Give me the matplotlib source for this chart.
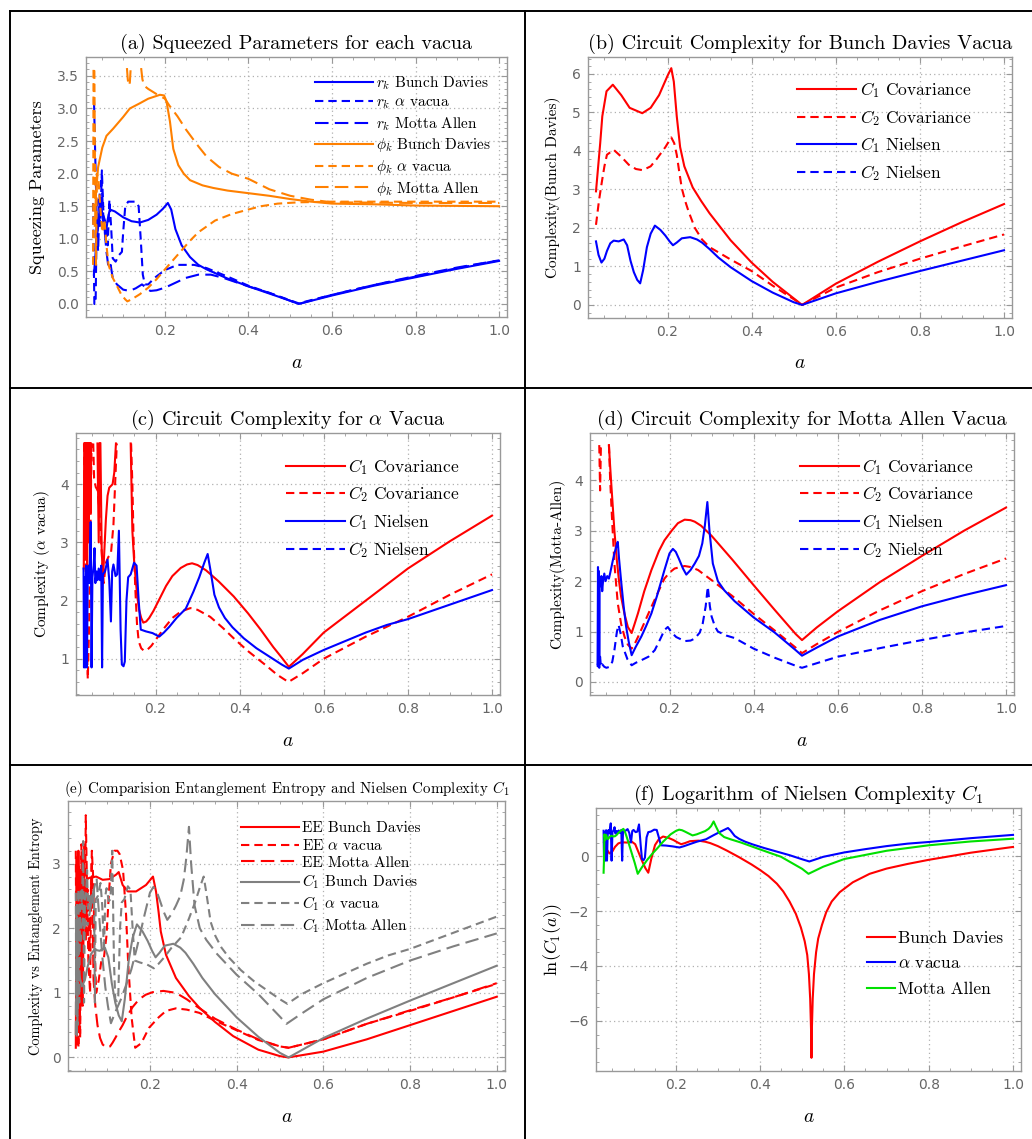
import numpy as np
import matplotlib
matplotlib.use('Agg')
import matplotlib.pyplot as plt
from matplotlib.lines import Line2D
from matplotlib.ticker import MultipleLocator

plt.rcParams['mathtext.fontset'] = 'cm'
nan = np.nan

# ---------------- (a) squeezing parameters ----------------
a_rk_bd_x = [0.030, 0.036, 0.042, 0.047, 0.052, 0.058, 0.063, 0.068, 0.08, 0.1, 0.12, 0.14, 0.16, 0.18, 0.195,
             0.207, 0.215, 0.225, 0.24, 0.26, 0.28, 0.3, 0.35, 0.4, 0.45, 0.5, 0.52, 0.6, 0.7, 0.8, 0.9, 1.0]
a_rk_bd_y = [0.45, 0.95, 1.3, 1.55, 1.25, 1.05, 1.3, 1.45, 1.42, 1.33, 1.27, 1.25, 1.29, 1.37, 1.46,
             1.55, 1.45, 1.15, 0.9, 0.72, 0.6, 0.53, 0.39, 0.27, 0.16, 0.05, 0.0, 0.13, 0.28, 0.41, 0.54, 0.66]

a_rk_al_x = [0.028, 0.031, 0.034, 0.037, 0.041, 0.045, 0.049, 0.053, 0.058, 0.063, 0.067, 0.071, 0.075, 0.082,
             0.09, 0.097, 0.1, 0.105, 0.112, 0.13, 0.137, 0.142, 0.147, 0.152, 0.16, 0.175, 0.2, 0.23, 0.27,
             0.3, 0.35, 0.4, 0.45, 0.52, 0.6, 0.7, 0.8, 0.9, 1.0]
a_rk_al_y = [1.55, 0.0, 0.0, 1.5, 1.6, 1.2, 2.05, 1.35, 1.25, 0.9, 1.6, 1.2, 0.7, 0.65,
             0.75, 0.8, 1.1, 1.5, 1.57, 1.57, 1.5, 1.0, 0.45, 0.3, 0.3, 0.4, 0.52, 0.6, 0.6,
             0.55, 0.42, 0.28, 0.17, 0.01, 0.14, 0.29, 0.42, 0.55, 0.67]

a_rk_ma_x = [0.030, 0.033, 0.036, 0.04, 0.044, 0.048, 0.052, 0.056, 0.06, 0.065, 0.07, 0.075, 0.085, 0.1,
             0.115, 0.13, 0.145, 0.155, 0.165, 0.18, 0.2, 0.22, 0.25, 0.28, 0.31, 0.34, 0.4, 0.45, 0.52,
             0.6, 0.7, 0.8, 0.9, 1.0]
a_rk_ma_y = [3.15, 2.3, 1.5, 0.8, 1.7, 1.9, 1.4, 1.1, 0.8, 0.55, 0.6, 0.4, 0.3, 0.22,
             0.2, 0.24, 0.3, 0.25, 0.2, 0.21, 0.25, 0.31, 0.4, 0.45, 0.45, 0.4, 0.27, 0.17, 0.0,
             0.14, 0.29, 0.43, 0.56, 0.67]

a_ph_bd_x = [0.032, 0.035, 0.04, 0.05, 0.06, 0.076, 0.1, 0.116, 0.14, 0.16, 0.188, 0.198, 0.204, 0.212,
             0.22, 0.232, 0.245, 0.26, 0.29, 0.316, 0.35, 0.4, 0.45, 0.5, 0.55, 0.6, 0.7, 0.8, 1.0]
a_ph_bd_y = [1.2, 1.7, 2.1, 2.4, 2.58, 2.69, 2.87, 3.0, 3.08, 3.15, 3.21, 3.2, 3.1, 2.8,
             2.38, 2.13, 2.0, 1.9, 1.82, 1.78, 1.74, 1.7, 1.66, 1.61, 1.57, 1.54, 1.53, 1.51, 1.5]

a_ph_al_x = [0.028, 0.029, 0.031, 0.033, 0.035, 0.037, 0.041, 0.045, 0.05, 0.055, 0.06, 0.065, 0.075,
             0.085, 0.095, 0.105, 0.11, 0.12, 0.14, 0.16, 0.18, 0.2, 0.23, 0.26, 0.28, 0.32, 0.36, 0.4,
             0.43, 0.47, 0.52, 0.6, 0.8, 1.0]
a_ph_al_y = [0.6, 3.62, 3.62, 1.6, 0.6, 2.0, 1.9, 1.5, 1.1, 1.3, 0.9, 0.6, 0.4,
             0.28, 0.15, 0.07, 0.04, 0.07, 0.15, 0.25, 0.38, 0.53, 0.75, 0.97, 1.1, 1.28, 1.38, 1.45,
             1.5, 1.54, 1.56, 1.57, 1.57, 1.57]

a_ph_ma_x = [0.109, 0.111, 0.113, 0.116, 0.118, nan, 0.143, 0.146, 0.15, 0.16, 0.18, 0.2, 0.21, 0.23,
             0.25, 0.28, 0.3, 0.33, 0.36, 0.4, 0.45, 0.5, 0.55, 0.6, 0.8, 1.0]
a_ph_ma_y = [3.62, 3.45, 3.35, 3.4, 3.62, nan, 3.62, 3.45, 3.35, 3.3, 3.22, 3.15, 3.05, 2.88,
             2.68, 2.42, 2.26, 2.1, 2.0, 1.92, 1.76, 1.66, 1.6, 1.56, 1.55, 1.55]

# ---------------- (b) Bunch Davies ----------------
b_c1cov_x = [0.03, 0.04, 0.045, 0.055, 0.07, 0.09, 0.11, 0.14, 0.16, 0.18, 0.2, 0.209, 0.215, 0.222,
             0.23, 0.24, 0.26, 0.28, 0.3, 0.35, 0.4, 0.45, 0.52, 0.6, 0.7, 0.8, 0.9, 1.0]
b_c1cov_y = [2.95, 4.2, 4.9, 5.55, 5.72, 5.45, 5.12, 4.98, 5.12, 5.45, 5.95, 6.15, 5.8, 4.9,
             4.1, 3.6, 3.05, 2.7, 2.38, 1.68, 1.1, 0.6, 0.0, 0.55, 1.12, 1.65, 2.15, 2.62]

b_c2cov_x = [0.03, 0.037, 0.044, 0.05, 0.056, 0.072, 0.09, 0.108, 0.125, 0.141, 0.16, 0.175, 0.195, 0.209,
             0.216, 0.222, 0.228, 0.234, 0.242, 0.25, 0.265, 0.282, 0.3, 0.35, 0.4, 0.45, 0.5, 0.52,
             0.6, 0.7, 0.8, 0.9, 1.0]
b_c2cov_y = [2.08, 2.7, 3.2, 3.6, 3.9, 4.03, 3.85, 3.64, 3.53, 3.5, 3.6, 3.8, 4.1, 4.35,
             4.2, 3.9, 3.45, 3.03, 2.7, 2.43, 2.0, 1.7, 1.5, 1.18, 0.88, 0.5, 0.15, 0.0,
             0.45, 0.85, 1.2, 1.52, 1.83]

b_c1niel_x = [0.03, 0.036, 0.043, 0.05, 0.056, 0.064, 0.072, 0.084, 0.096, 0.104, 0.112, 0.12, 0.128, 0.135,
              0.142, 0.151, 0.16, 0.17, 0.183, 0.195, 0.205, 0.213, 0.222, 0.234, 0.254, 0.27, 0.282, 0.3,
              0.321, 0.35, 0.4, 0.45, 0.5, 0.52, 0.6, 0.7, 0.8, 0.9, 1.0]
b_c1niel_y = [1.65, 1.3, 1.1, 1.2, 1.4, 1.6, 1.67, 1.65, 1.7, 1.55, 1.15, 0.85, 0.65, 0.56,
              0.9, 1.5, 1.85, 2.06, 1.95, 1.8, 1.65, 1.55, 1.62, 1.73, 1.76, 1.7, 1.62, 1.45,
              1.23, 0.98, 0.62, 0.32, 0.07, 0.0, 0.3, 0.6, 0.88, 1.15, 1.42]

# ---------------- (c) alpha vacua ----------------
c_c1cov_x = [0.0295, 0.0305, nan, 0.0325, 0.0335, 0.0345, nan, 0.0365, 0.0375, 0.0385, nan, 0.0405, 0.0415,
             0.0425, nan, 0.0445, 0.0455, 0.0465, nan, 0.062, 0.065, 0.067, nan, 0.069, 0.072, 0.075, 0.078,
             0.082, 0.086, 0.09, 0.098, 0.102, 0.106, nan, 0.141, 0.145, 0.149, 0.153, 0.157, 0.161, 0.166,
             0.171, 0.178, 0.185, 0.195, 0.209, 0.225, 0.24, 0.26, 0.275, 0.287, 0.3, 0.32, 0.35, 0.386,
             0.42, 0.45, 0.48, 0.5, 0.517, 0.55, 0.6, 0.7, 0.8, 0.9, 1.0]
c_c1cov_y = [2.55, 4.7, nan, 4.7, 2.7, 4.7, nan, 4.7, 2.5, 4.7, nan, 4.7, 3.0,
             4.7, nan, 4.7, 3.5, 4.7, nan, 4.7, 3.0, 4.7, nan, 4.7, 2.9, 2.35, 2.8,
             3.39, 3.8, 3.94, 4.0, 4.2, 4.7, nan, 4.7, 3.2, 2.7, 2.35, 2.05, 1.84, 1.7,
             1.62, 1.64, 1.7, 1.82, 2.02, 2.25, 2.42, 2.56, 2.62, 2.64, 2.61, 2.52, 2.33, 2.07,
             1.78, 1.5, 1.2, 1.02, 0.86, 1.08, 1.45, 2.0, 2.55, 3.02, 3.46]

c_c2cov_x = [0.030, 0.033, 0.036, 0.039, 0.042, 0.045, 0.048, nan, 0.052, 0.054, 0.058, 0.062, 0.066, 0.07,
             0.074, 0.077, 0.082, 0.088, 0.094, 0.1, 0.104, 0.108, nan, 0.142, 0.145, 0.148, 0.152, 0.156,
             0.16, 0.166, 0.172, 0.18, 0.19, 0.2, 0.22, 0.24, 0.26, 0.283, 0.3, 0.33, 0.36, 0.386, 0.42,
             0.46, 0.49, 0.516, 0.55, 0.6, 0.7, 0.8, 0.9, 1.0]
c_c2cov_y = [4.7, 3.0, 1.5, 0.65, 1.5, 3.0, 4.7, nan, 4.7, 4.1, 3.95, 3.9, 3.6, 3.1,
             2.6, 2.3, 2.65, 2.75, 2.8, 3.3, 4.0, 4.7, nan, 4.7, 4.0, 3.0, 2.2, 1.6,
             1.3, 1.18, 1.14, 1.15, 1.22, 1.32, 1.52, 1.7, 1.81, 1.87, 1.84, 1.72, 1.53, 1.35, 1.13,
             0.9, 0.72, 0.6, 0.75, 1.0, 1.38, 1.72, 2.1, 2.45]

c_c1niel_x = [0.029, 0.030, 0.031, 0.033, 0.035, 0.037, 0.039, 0.041, 0.043, 0.046, 0.048, 0.05, 0.053,
              0.055, 0.057, 0.06, 0.062, 0.065, 0.068, 0.071, 0.073, 0.075, 0.08, 0.086, 0.09, 0.094, 0.097,
              0.1, 0.105, 0.109, 0.113, 0.117, 0.12, 0.124, 0.127, 0.131, 0.135, 0.141, 0.149, 0.155, 0.16,
              0.165, 0.177, 0.193, 0.209, 0.22, 0.233, 0.25, 0.272, 0.29, 0.304, 0.316, 0.324, 0.33, 0.34,
              0.351, 0.365, 0.383, 0.41, 0.44, 0.47, 0.5, 0.517, 0.55, 0.6, 0.65, 0.7, 0.75, 0.8, 0.9, 1.0]
c_c1niel_y = [2.55, 0.85, 2.4, 0.85, 2.6, 0.85, 2.5, 2.6, 2.3, 3.35, 0.85, 2.4, 2.6,
              2.9, 2.3, 2.5, 2.35, 2.55, 2.35, 2.6, 0.85, 2.45, 2.5, 2.7, 2.35, 1.64, 2.5,
              2.62, 2.42, 2.45, 3.2, 1.5, 0.9, 0.87, 0.95, 2.0, 2.4, 2.45, 2.65, 2.6, 2.0,
              1.5, 1.47, 1.44, 1.38, 1.45, 1.55, 1.7, 1.86, 2.15, 2.4, 2.65, 2.8, 2.55, 2.1,
              1.88, 1.7, 1.54, 1.35, 1.18, 1.04, 0.9, 0.83, 0.98, 1.15, 1.3, 1.45, 1.58, 1.68, 1.93, 2.18]

# ---------------- (d) Motta Allen ----------------
d_c1cov_x = [0.056, 0.058, 0.061, 0.065, 0.069, 0.075, 0.08, 0.085, 0.093, 0.101, 0.11, 0.117, 0.125, 0.14,
             0.157, 0.175, 0.188, 0.205, 0.22, 0.236, 0.25, 0.26, 0.275, 0.3, 0.35, 0.4, 0.45, 0.5,
             0.515, 0.55, 0.6, 0.7, 0.8, 0.9, 1.0]
d_c1cov_y = [4.7, 4.4, 4.0, 3.5, 3.0, 2.4, 2.0, 1.69, 1.35, 1.09, 0.97, 1.15, 1.36, 1.8,
             2.22, 2.6, 2.81, 3.0, 3.15, 3.22, 3.21, 3.18, 3.1, 2.9, 2.42, 1.92, 1.43, 0.95,
             0.83, 1.08, 1.4, 1.98, 2.5, 3.0, 3.46]

d_c2cov_x = [0.033, 0.035, 0.037, nan, 0.056, 0.059, 0.063, 0.069, 0.077, 0.085, 0.093, 0.101, 0.11, 0.117,
             0.125, 0.14, 0.157, 0.175, 0.188, 0.2, 0.212, 0.236, 0.25, 0.268, 0.3, 0.35, 0.4, 0.45,
             0.5, 0.515, 0.55, 0.6, 0.7, 0.8, 0.9, 1.0]
d_c2cov_y = [4.7, 3.8, 4.7, nan, 4.7, 4.0, 3.3, 2.35, 1.56, 1.15, 0.9, 0.74, 0.66, 0.75,
             0.89, 1.17, 1.49, 1.82, 2.05, 2.17, 2.25, 2.3, 2.28, 2.22, 2.02, 1.7, 1.35, 1.02,
             0.68, 0.57, 0.75, 0.99, 1.42, 1.8, 2.14, 2.45]

d_c1niel_x = [0.029, 0.030, 0.031, 0.032, 0.033, 0.034, 0.036, 0.038, 0.04, 0.042, 0.045, 0.048, 0.052,
              0.056, 0.06, 0.065, 0.069, 0.074, 0.077, 0.08, 0.085, 0.091, 0.097, 0.103, 0.11, 0.12, 0.133,
              0.145, 0.157, 0.17, 0.188, 0.2, 0.208, 0.215, 0.222, 0.232, 0.24, 0.25, 0.26, 0.27, 0.278,
              0.284, 0.29, 0.295, 0.303, 0.315, 0.33, 0.355, 0.4, 0.45, 0.5, 0.515, 0.55, 0.6, 0.7, 0.8,
              0.9, 1.0]
d_c1niel_y = [0.35, 2.28, 0.3, 2.2, 0.5, 2.0, 1.9, 2.1, 1.8, 2.0, 2.15, 2.0, 2.1,
              2.05, 2.2, 2.4, 2.55, 2.7, 2.78, 2.45, 2.0, 1.5, 1.09, 0.8, 0.53, 0.7, 0.9,
              1.12, 1.36, 1.7, 2.22, 2.55, 2.64, 2.58, 2.45, 2.25, 2.13, 2.22, 2.35, 2.5, 2.75,
              3.1, 3.57, 3.0, 2.35, 2.0, 1.82, 1.6, 1.28, 0.98, 0.63, 0.52, 0.68, 0.9, 1.23, 1.5,
              1.72, 1.92]

d_c2niel_x = [0.029, 0.031, 0.033, 0.035, 0.037, 0.04, 0.045, 0.05, 0.058, 0.064, 0.069, 0.075, 0.079,
              0.084, 0.089, 0.1, 0.11, 0.12, 0.133, 0.15, 0.165, 0.178, 0.188, 0.196, 0.205, 0.216, 0.236,
              0.25, 0.26, 0.272, 0.279, 0.286, 0.291, 0.296, 0.3, 0.308, 0.315, 0.335, 0.355, 0.4, 0.45,
              0.5, 0.515, 0.6, 0.7, 0.8, 0.9, 1.0]
d_c2niel_y = [0.3, 0.45, 0.28, 0.5, 0.3, 0.35, 0.3, 0.28, 0.3, 0.4, 0.63, 1.0, 1.13,
              0.95, 0.7, 0.45, 0.33, 0.38, 0.43, 0.5, 0.63, 0.85, 1.03, 1.09, 0.98, 0.89, 0.81,
              0.82, 0.86, 0.98, 1.16, 1.5, 1.89, 1.5, 1.3, 1.1, 1.0, 0.92, 0.87, 0.66, 0.48,
              0.32, 0.28, 0.5, 0.67, 0.83, 0.98, 1.11]

# ---------------- (e) entanglement entropy ----------------
e_ee_bd_x = [0.029, 0.031, 0.033, 0.035, 0.037, 0.039, 0.041, 0.043, 0.045, 0.047, 0.05, 0.053, 0.06, 0.076,
             0.091, 0.106, 0.122, 0.128, 0.137, 0.149, 0.168, 0.191, 0.207, 0.214, 0.22, 0.225, 0.237,
             0.26, 0.29, 0.314, 0.35, 0.392, 0.45, 0.5, 0.519, 0.6, 0.7, 0.8, 0.9, 1.0]
e_ee_bd_y = [0.15, 3.1, 0.4, 3.2, 0.5, 2.9, 0.8, 3.1, 1.2, 2.6, 2.2, 2.75, 2.78, 2.8,
             2.75, 2.76, 2.83, 2.87, 2.67, 2.57, 2.57, 2.67, 2.8, 2.57, 2.25, 1.95, 1.59,
             1.23, 0.95, 0.77, 0.55, 0.33, 0.12, 0.02, 0.0, 0.09, 0.28, 0.5, 0.72, 0.94]

e_ee_al_x = [0.029, 0.031, 0.033, 0.035, 0.037, 0.039, 0.042, 0.045, 0.048, 0.05, 0.052, 0.055, 0.058,
             0.062, 0.064, 0.066, 0.069, 0.072, 0.076, 0.082, 0.088, 0.094, 0.1, 0.105, 0.11, 0.118, 0.125,
             0.13, 0.138, 0.145, 0.15, 0.158, 0.166, 0.18, 0.198, 0.22, 0.237, 0.26, 0.285, 0.314, 0.35,
             0.4, 0.45, 0.5, 0.52, 0.6, 0.7, 0.8, 0.9, 1.0]
e_ee_al_y = [3.2, 0.2, 3.0, 0.15, 2.5, 0.3, 3.3, 0.8, 3.0, 2.0, 3.75, 2.6, 1.5,
             1.0, 2.5, 3.2, 2.8, 1.8, 1.0, 1.2, 1.5, 1.55, 1.9, 2.5, 3.0, 3.2, 3.2,
             3.15, 2.9, 2.2, 1.43, 0.6, 0.15, 0.22, 0.46, 0.62, 0.72, 0.76, 0.74, 0.69, 0.57,
             0.42, 0.27, 0.17, 0.15, 0.28, 0.52, 0.72, 0.93, 1.14]

e_ee_ma_x = [0.03, 0.032, 0.034, 0.036, 0.038, 0.04, 0.044, 0.048, 0.052, 0.056, 0.06, 0.063, 0.066, 0.068,
             0.07, 0.074, 0.079, 0.085, 0.091, 0.1, 0.108, 0.114, 0.12, 0.129, 0.137, 0.145, 0.16, 0.175,
             0.19, 0.206, 0.231, 0.26, 0.285, 0.31, 0.35, 0.4, 0.45, 0.5, 0.52, 0.6, 0.7, 0.8, 0.9, 1.0]
e_ee_ma_y = [0.2, 2.8, 1.0, 3.0, 0.6, 2.5, 1.5, 3.3, 1.8, 2.6, 1.6, 2.4, 3.0, 2.0,
             1.2, 0.8, 0.5, 0.3, 0.2, 0.15, 0.17, 0.23, 0.3, 0.41, 0.5, 0.61, 0.78, 0.9,
             0.97, 1.01, 1.03, 1.0, 0.9, 0.78, 0.6, 0.43, 0.28, 0.17, 0.15, 0.28, 0.52, 0.73, 0.93, 1.15]

# ---------------- (f) log of Nielsen C1 ----------------
f_bd_x = [0.03, 0.036, 0.043, 0.05, 0.056, 0.064, 0.072, 0.084, 0.096, 0.104, 0.112, 0.12, 0.128, 0.135,
          0.142, 0.151, 0.16, 0.17, 0.183, 0.195, 0.205, 0.213, 0.222, 0.234, 0.254, 0.27, 0.282, 0.3,
          0.321, 0.35, 0.38, 0.4, 0.42, 0.44, 0.455, 0.47, 0.485, 0.497, 0.506, 0.512, 0.516, 0.519,
          0.521, 0.522, 0.523, 0.525, 0.528, 0.533, 0.538, 0.547, 0.557, 0.57, 0.589, 0.62, 0.66, 0.7,
          0.75, 0.8, 0.9, 1.0]
f_bd_y = [0.5, 0.26, 0.1, 0.18, 0.34, 0.47, 0.51, 0.5, 0.53, 0.44, 0.14, -0.16, -0.43, -0.6,
          -0.1, 0.41, 0.62, 0.72, 0.67, 0.59, 0.5, 0.44, 0.48, 0.55, 0.57, 0.53, 0.48, 0.37,
          0.21, -0.03, -0.3, -0.5, -0.72, -1.0, -1.28, -1.65, -2.1, -2.6, -3.1, -3.6, -4.3, -5.2,
          -6.3, -7.35, -6.3, -5.2, -4.3, -3.5, -3.0, -2.5, -2.04, -1.65, -1.31, -0.95, -0.64, -0.45,
          -0.28, -0.13, 0.13, 0.34]

f_al_x = c_c1niel_x
f_al_y = [0.93, -0.16, 0.88, -0.16, 0.95, -0.16, 0.92, 0.96, 0.83, 1.2, -0.16, 0.88, 0.96,
          1.06, 0.83, 0.92, 0.85, 0.94, 0.85, 0.96, -0.16, 0.9, 0.92, 0.99, 0.85, 0.5, 0.92,
          0.96, 0.88, 0.9, 1.16, 0.4, -0.1, -0.14, -0.05, 0.69, 0.88, 0.9, 0.97, 0.96, 0.69,
          0.4, 0.39, 0.36, 0.32, 0.37, 0.44, 0.53, 0.62, 0.77, 0.88, 0.97, 1.03, 0.94, 0.74,
          0.63, 0.53, 0.43, 0.3, 0.17, 0.04, -0.11, -0.19, -0.02, 0.14, 0.26, 0.37, 0.46, 0.52, 0.66, 0.78]

f_ma_x = [0.029, 0.030, 0.031, 0.033, 0.035, 0.038, 0.04, 0.044, 0.048, 0.052, 0.056, 0.06, 0.064, 0.069,
          0.076, 0.08, 0.085, 0.091, 0.097, 0.103, 0.11, 0.12, 0.133, 0.145, 0.157, 0.17, 0.188, 0.2,
          0.208, 0.215, 0.222, 0.24, 0.25, 0.26, 0.27, 0.278, 0.284, 0.29, 0.295, 0.303, 0.315, 0.33,
          0.355, 0.4, 0.45, 0.5, 0.515, 0.55, 0.6, 0.7, 0.8, 0.9, 1.0]
f_ma_y = [-0.6, -0.1, 0.8, 0.6, 0.78, 0.65, 0.63, 0.72, 0.75, 0.72, 0.73, 0.78, 0.85, 0.92,
          1.0, 0.88, 0.65, 0.35, 0.05, -0.25, -0.64, -0.4, -0.12, 0.1, 0.3, 0.53, 0.8, 0.92,
          0.97, 0.95, 0.9, 0.76, 0.8, 0.86, 0.92, 1.0, 1.1, 1.27, 1.1, 0.85, 0.7, 0.62,
          0.5, 0.25, -0.02, -0.46, -0.64, -0.38, -0.1, 0.2, 0.4, 0.54, 0.64]

W, H = 1032, 1139
fig = plt.figure(figsize=(W / 100, H / 100), dpi=100)

SERIF = 'cmr10'
SHORT = (0, (4, 2.4))
LONG = (0, (6.5, 3))
LW = 1.5
BLUE, ORANGE, RED, GREY, GREEN = '#0000ff', '#ff8000', '#ff0000', '#808080', '#00e000'


def make_axes(l, t, r, b):
    return fig.add_axes([l / W, 1 - b / H, (r - l) / W, (b - t) / H])


def style(ax, ylim, ymaj, ymin, title, tsize, ylabel, ysize, ydist, h_px, w_px):
    ax.set_xlim(0.011, 1.019)
    ax.set_ylim(*ylim)
    ax.xaxis.set_major_locator(MultipleLocator(0.2))
    ax.xaxis.set_minor_locator(MultipleLocator(0.05))
    ax.yaxis.set_major_locator(MultipleLocator(ymaj))
    ax.yaxis.set_minor_locator(MultipleLocator(ymin))
    ax.tick_params(which='both', direction='in', top=True, right=True, color='#999999')
    ax.tick_params(which='major', length=4.5, width=0.8, labelsize=10, labelcolor='#666666', pad=5)
    ax.tick_params(which='minor', length=2.5, width=0.6)
    for s in ax.spines.values():
        s.set_color('#999999')
        s.set_linewidth(1.0)
    ax.grid(True, which='major', color='#b0b0b0', linestyle=(0, (1, 2.5)), linewidth=0.9)
    ax.set_title(title, fontsize=tsize, family=SERIF, pad=6)
    ax.set_xlabel('$a$', fontsize=14)
    ax.xaxis.set_label_coords(0.5, -45 / h_px)
    ax.xaxis.label.set_va('center')
    ax.set_ylabel(ylabel, fontsize=ysize, family=SERIF)
    ax.yaxis.set_label_coords(-ydist / w_px, 0.5)
    ax.yaxis.label.set_va('center')


def legend(ax, x, y, size, hl, spacing):
    ax.legend(loc='upper left', bbox_to_anchor=(x, y), frameon=False,
              prop={'family': SERIF, 'size': size}, handlelength=hl, handletextpad=0.2,
              labelspacing=spacing, borderpad=0, borderaxespad=0)


# (a)
ax = make_axes(86, 57, 507, 317)
ax.plot(a_rk_bd_x, a_rk_bd_y, color=BLUE, lw=LW, label=r'$r_k$ Bunch Davies')
ax.plot(a_rk_al_x, a_rk_al_y, color=BLUE, lw=LW, ls=SHORT, label=r'$r_k$ $\alpha$ vacua')
ax.plot(a_rk_ma_x, a_rk_ma_y, color=BLUE, lw=LW, ls=LONG, label=r'$r_k$ Motta Allen')
ax.plot(a_ph_bd_x, a_ph_bd_y, color=ORANGE, lw=LW, label=r'$\phi_k$ Bunch Davies')
ax.plot(a_ph_al_x, a_ph_al_y, color=ORANGE, lw=LW, ls=SHORT, label=r'$\phi_k$ $\alpha$ vacua')
ax.plot(a_ph_ma_x, a_ph_ma_y, color=ORANGE, lw=LW, ls=LONG, label=r'$\phi_k$ Motta Allen')
style(ax, (-0.2, 3.79), 0.5, 0.1, '(a) Squeezed Parameters for each vacua', 14.5,
      'Squeezing Parameters', 13, 49, 260, 421)
legend(ax, 0.544, 0.932, 11, 3.8, 0.24)

# (b)
ax = make_axes(588, 57, 1012, 318)
ax.plot(b_c1cov_x, b_c1cov_y, color=RED, lw=LW, label=r'$C_1$ Covariance')
ax.plot(b_c2cov_x, b_c2cov_y, color=RED, lw=LW, ls=SHORT, label=r'$C_2$ Covariance')
ax.plot(b_c1niel_x, b_c1niel_y, color=BLUE, lw=LW, label=r'$C_1$ Nielsen')
ax.plot([], [], color=BLUE, lw=LW, ls=SHORT, label=r'$C_2$ Nielsen')
style(ax, (-0.34, 6.44), 1, 0.2, '(b) Circuit Complexity for Bunch Davies Vacua', 14.5,
      'Complexity(Bunch Davies)', 11, 35, 261, 424)
legend(ax, 0.493, 0.912, 12.5, 3.4, 0.45)

# (c)
ax = make_axes(76, 433, 500, 695)
ax.plot(c_c1cov_x, c_c1cov_y, color=RED, lw=LW, label=r'$C_1$ Covariance')
ax.plot(c_c2cov_x, c_c2cov_y, color=RED, lw=LW, ls=SHORT, label=r'$C_2$ Covariance')
ax.plot(c_c1niel_x, c_c1niel_y, color=BLUE, lw=LW, label=r'$C_1$ Nielsen')
ax.plot([], [], color=BLUE, lw=LW, ls=SHORT, label=r'$C_2$ Nielsen')
style(ax, (0.376, 4.88), 1, 0.2, r'(c) Circuit Complexity for $\alpha$ Vacua', 14.5,
      r'Complexity ($\alpha$ vacua)', 11, 34, 262, 424)
legend(ax, 0.495, 0.91, 12.5, 3.4, 0.45)

# (d)
ax = make_axes(590, 433, 1014, 695)
ax.plot(d_c1cov_x, d_c1cov_y, color=RED, lw=LW, label=r'$C_1$ Covariance')
ax.plot(d_c2cov_x, d_c2cov_y, color=RED, lw=LW, ls=SHORT, label=r'$C_2$ Covariance')
ax.plot(d_c1niel_x, d_c1niel_y, color=BLUE, lw=LW, label=r'$C_1$ Nielsen')
ax.plot(d_c2niel_x, d_c2niel_y, color=BLUE, lw=LW, ls=SHORT, label=r'$C_2$ Nielsen')
style(ax, (-0.26, 4.94), 1, 0.2, '(d) Circuit Complexity for Motta Allen Vacua', 14.5,
      'Complexity(Motta-Allen)', 11, 33, 262, 424)
legend(ax, 0.495, 0.91, 12.5, 3.4, 0.45)

# (e)
ax = make_axes(68, 801, 505, 1071)
ax.plot(e_ee_bd_x, e_ee_bd_y, color=RED, lw=LW, label='EE Bunch Davies')
ax.plot(e_ee_al_x, e_ee_al_y, color=RED, lw=LW, ls=SHORT, label=r'EE $\alpha$ vacua')
ax.plot(e_ee_ma_x, e_ee_ma_y, color=RED, lw=LW, ls=LONG, label='EE Motta Allen')
ax.plot(b_c1niel_x, b_c1niel_y, color=GREY, lw=LW, label=r'$C_1$ Bunch Davies')
ax.plot(c_c1niel_x, c_c1niel_y, color=GREY, lw=LW, ls=SHORT, label=r'$C_1$ $\alpha$ vacua')
ax.plot(d_c1niel_x, d_c1niel_y, color=GREY, lw=LW, ls=LONG, label=r'$C_1$ Motta Allen')
style(ax, (-0.21, 3.97), 1, 0.2, r'(e) Comparision Entanglement Entropy and Nielsen Complexity $C_1$', 10.8,
      'Complexity vs Entanglement Entropy', 10.3, 32, 270, 437)
legend(ax, 0.396, 0.925, 11, 3.8, 0.2)

# (f)
ax = make_axes(596, 808, 1021, 1071)
ax.plot(f_bd_x, f_bd_y, color=RED, lw=LW, label='Bunch Davies')
ax.plot(f_al_x, f_al_y, color=BLUE, lw=LW, label=r'$\alpha$ vacua')
ax.plot(f_ma_x, f_ma_y, color=GREEN, lw=LW, label='Motta Allen')
style(ax, (-7.83, 1.76), 2, 0.5, r'(f) Logarithm of Nielsen Complexity $C_1$', 14.5,
      r'$\ln(C_1(a))$', 13, 43, 263, 425)
legend(ax, 0.638, 0.535, 12.5, 1.6, 0.6)

# panel borders
def fline(x0, y0, x1, y1):
    fig.add_artist(Line2D([x0 / W, x1 / W], [1 - y0 / H, 1 - y1 / H], color='black', lw=1.4))

fline(10, 11, W, 11)
fline(10, 388, W, 388)
fline(10, 765, W, 765)
fline(10, 11, 10, H)
fline(525, 11, 525, H)

plt.savefig('out.png', dpi=100)
plt.close()
